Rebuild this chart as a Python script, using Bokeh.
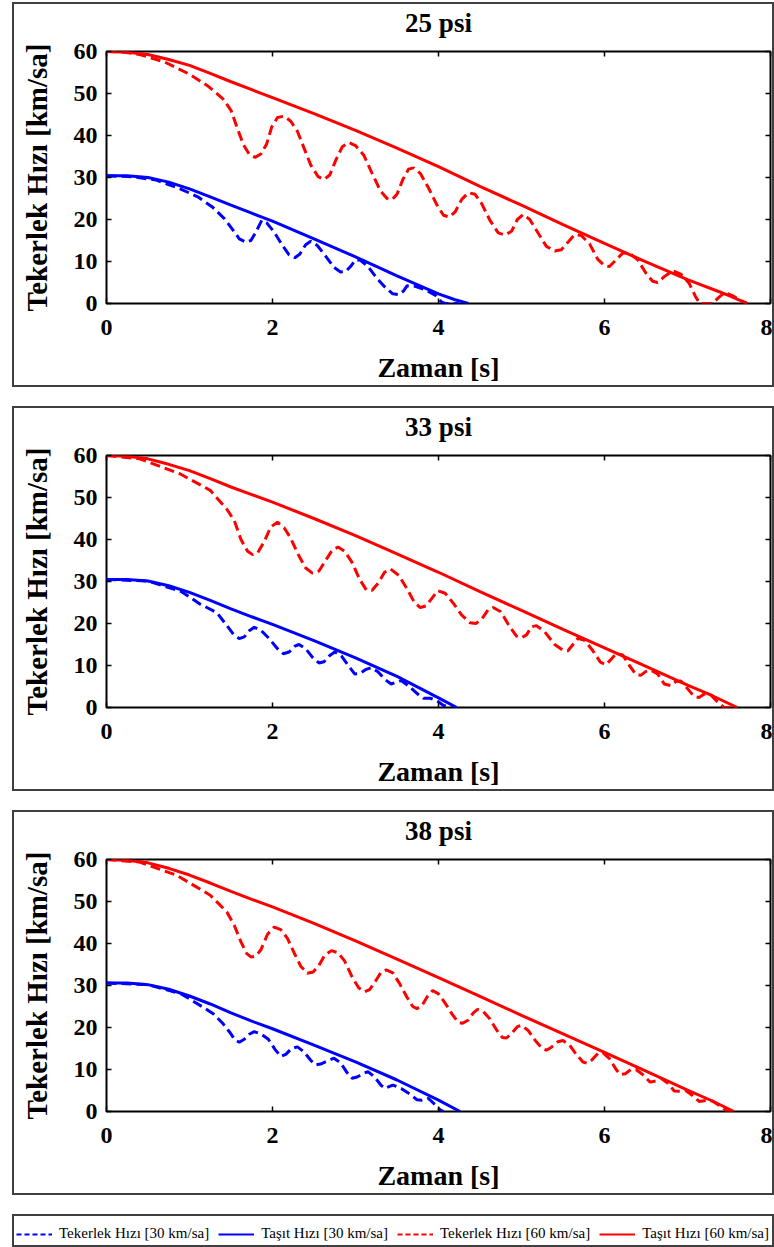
from bokeh.plotting import figure
from bokeh.models import Range1d, LinearAxis, FixedTicker, Legend, LegendItem
from bokeh.layouts import column
from bokeh.embed import file_html
from bokeh.resources import INLINE

# ---------------- data ----------------
panel_titles = ["25 psi", "33 psi", "38 psi"]
x_ticks = [0, 2, 4, 6, 8]
y_ticks = [0, 10, 20, 30, 40, 50, 60]
legend_labels = ["Tekerlek Hızı [30 km/sa]", "Taşıt Hızı [30 km/sa]",
                 "Tekerlek Hızı [60 km/sa]", "Taşıt Hızı [60 km/sa]"]

# 25 psi
t_tasit60_25 = [0, 0.25, 0.5, 0.75, 1.0, 1.25, 1.5, 1.75, 2.0, 2.5, 3.0, 3.5, 4.0, 4.5, 5.0, 5.5, 6.0, 6.5, 7.0, 7.5, 7.72]
v_tasit60_25 = [60, 59.8, 59.3, 58.1, 56.7, 54.8, 52.8, 50.9, 49.0, 45.2, 41.2, 37.0, 32.6, 27.9, 23.4, 18.8, 14.3, 9.9, 5.7, 1.9, 0]
t_teker60_25 = [0, 0.2, 0.4, 0.7, 1.0, 1.22, 1.4, 1.5, 1.58, 1.65, 1.72, 1.79, 1.86, 1.93, 1.99, 2.06, 2.14, 2.22, 2.3, 2.38, 2.46, 2.55, 2.62, 2.69, 2.76, 2.84, 2.92, 3.0, 3.1, 3.2, 3.3, 3.38, 3.44, 3.5, 3.57, 3.64, 3.7, 3.78, 3.88, 3.98, 4.06, 4.13, 4.2, 4.28, 4.36, 4.44, 4.52, 4.62, 4.72, 4.8, 4.88, 4.95, 5.02, 5.1, 5.2, 5.3, 5.4, 5.48, 5.56, 5.64, 5.72, 5.82, 5.92, 6.0, 6.06, 6.13, 6.22, 6.3, 6.4, 6.5, 6.58, 6.64, 6.72, 6.82, 6.92, 7.02, 7.1, 7.15, 7.3, 7.38, 7.45, 7.55, 7.65, 7.72]
v_teker60_25 = [60, 59.9, 59.3, 57.5, 54.6, 51.8, 48.8, 46.0, 41.5, 37.8, 35.5, 34.8, 35.6, 38.0, 42.0, 44.3, 44.6, 43.4, 41.0, 37.0, 33.0, 30.2, 29.5, 30.6, 34.0, 37.3, 38.3, 37.6, 35.3, 31.0, 26.8, 25.0, 24.7, 26.0, 29.5, 32.0, 32.3, 31.0, 27.5, 23.5, 21.0, 20.6, 21.8, 24.8, 26.4, 26.0, 23.8, 19.8, 16.8, 16.3, 17.2, 20.0, 21.2, 20.0, 16.8, 13.6, 12.5, 12.8, 14.6, 16.4, 16.2, 14.2, 10.5, 9.0, 8.8, 10.2, 12.0, 12.0, 10.4, 7.2, 5.3, 5.0, 6.4, 7.8, 7.0, 4.8, 1.5, 0, 0, 1.5, 2.6, 1.8, 0.6, 0]
t_tasit30_25 = [0, 0.25, 0.5, 0.75, 1.0, 1.25, 1.5, 1.75, 2.0, 2.5, 3.0, 3.5, 4.0, 4.2, 4.36]
v_tasit30_25 = [30.4, 30.4, 30.0, 28.9, 27.3, 25.4, 23.4, 21.5, 19.6, 15.4, 11.1, 6.6, 2.3, 0.9, 0]
t_teker30_25 = [0, 0.3, 0.6, 0.9, 1.1, 1.28, 1.42, 1.52, 1.6, 1.68, 1.74, 1.8, 1.87, 1.93, 2.02, 2.12, 2.2, 2.27, 2.33, 2.4, 2.46, 2.54, 2.64, 2.74, 2.82, 2.88, 2.94, 3.0, 3.06, 3.15, 3.25, 3.35, 3.45, 3.52, 3.58, 3.62, 3.72, 3.85, 3.96, 4.04, 4.08, 4.24]
v_teker30_25 = [30.4, 30.2, 29.4, 27.2, 25.4, 22.9, 20.2, 17.6, 15.4, 14.6, 15.0, 17.0, 19.8, 19.2, 17.0, 13.8, 11.6, 10.9, 11.8, 14.0, 14.8, 13.8, 11.3, 8.6, 7.5, 7.6, 8.8, 10.4, 10.3, 8.8, 6.2, 4.0, 2.3, 2.1, 3.0, 4.2, 4.1, 3.2, 2.0, 0.3, 0, 0]

# 33 psi
t_tasit60_33 = [0, 0.25, 0.5, 0.75, 1.0, 1.25, 1.5, 1.75, 2.0, 2.5, 3.0, 3.5, 4.0, 4.5, 5.0, 5.5, 6.0, 6.5, 7.0, 7.3, 7.6]
v_tasit60_33 = [60, 59.8, 59.2, 57.9, 56.4, 54.5, 52.5, 50.7, 48.9, 45.0, 40.9, 36.6, 32.2, 27.6, 23.1, 18.6, 14.2, 9.8, 5.3, 2.8, 0]
t_teker60_33 = [0, 0.4, 0.89, 1.25, 1.45, 1.54, 1.62, 1.7, 1.76, 1.82, 1.9, 1.98, 2.06, 2.14, 2.22, 2.3, 2.4, 2.48, 2.56, 2.64, 2.72, 2.79, 2.87, 2.96, 3.05, 3.13, 3.2, 3.27, 3.35, 3.42, 3.52, 3.62, 3.71, 3.78, 3.85, 3.92, 3.99, 4.08, 4.18, 4.28, 4.38, 4.45, 4.52, 4.6, 4.66, 4.75, 4.85, 4.94, 5.0, 5.06, 5.12, 5.18, 5.28, 5.4, 5.5, 5.56, 5.62, 5.68, 5.76, 5.86, 5.95, 6.02, 6.08, 6.14, 6.22, 6.3, 6.38, 6.44, 6.5, 6.56, 6.64, 6.72, 6.8, 6.86, 6.92, 7.0, 7.08, 7.14, 7.2, 7.28, 7.38, 7.44, 7.6]
v_teker60_33 = [60, 59.2, 55.6, 51.7, 47.2, 44.5, 40.0, 37.2, 36.4, 36.8, 39.5, 43.0, 44.1, 42.8, 40.3, 36.8, 33.2, 32.0, 32.5, 35.0, 37.5, 38.2, 37.2, 34.5, 30.5, 28.0, 27.9, 29.5, 32.2, 33.0, 31.5, 28.3, 25.0, 23.8, 24.2, 26.0, 27.8, 27.2, 24.8, 22.0, 20.2, 20.0, 21.0, 23.3, 23.8, 22.8, 19.5, 17.0, 16.6, 17.3, 19.2, 19.5, 18.0, 15.0, 13.6, 13.5, 15.0, 16.5, 16.0, 13.5, 10.8, 10.2, 11.5, 12.8, 12.5, 10.0, 7.8, 7.7, 8.6, 8.9, 8.0, 5.6, 5.2, 6.2, 6.3, 4.5, 2.6, 2.4, 3.2, 3.0, 1.0, 0, 0]
t_tasit30_33 = [0, 0.25, 0.5, 0.75, 1.0, 1.25, 1.5, 1.75, 2.0, 2.5, 3.0, 3.5, 4.0, 4.22]
v_tasit30_33 = [30.5, 30.5, 30.1, 29.0, 27.4, 25.5, 23.5, 21.6, 19.8, 15.9, 11.8, 7.4, 2.3, 0]
t_teker30_33 = [0, 0.5, 0.9, 1.13, 1.33, 1.45, 1.53, 1.6, 1.66, 1.72, 1.78, 1.86, 1.96, 2.06, 2.13, 2.2, 2.27, 2.32, 2.4, 2.48, 2.56, 2.62, 2.69, 2.75, 2.83, 2.92, 2.99, 3.05, 3.12, 3.19, 3.27, 3.36, 3.43, 3.49, 3.55, 3.65, 3.75, 3.82, 3.9, 3.98, 4.06, 4.16]
v_teker30_33 = [30.5, 30.1, 27.6, 24.6, 22.6, 19.5, 17.4, 16.4, 16.8, 18.3, 19.1, 18.4, 16.4, 14.0, 12.8, 13.2, 14.6, 15.0, 14.0, 12.0, 10.6, 10.9, 12.4, 13.2, 12.3, 9.8, 8.0, 8.1, 9.0, 9.5, 8.5, 6.6, 5.6, 6.0, 6.4, 5.0, 3.2, 2.2, 2.2, 1.6, 0.5, 0]

# 38 psi
t_tasit60_38 = [0, 0.25, 0.5, 0.75, 1.0, 1.25, 1.5, 1.75, 2.0, 2.5, 3.0, 3.5, 4.0, 4.5, 5.0, 5.5, 6.0, 6.5, 7.0, 7.3, 7.56]
v_tasit60_38 = [60, 59.8, 59.2, 57.9, 56.3, 54.4, 52.4, 50.5, 48.7, 44.8, 40.6, 36.3, 31.9, 27.4, 22.9, 18.5, 14.1, 9.6, 5.1, 2.5, 0]
t_teker60_38 = [0, 0.4, 0.85, 1.25, 1.45, 1.54, 1.62, 1.69, 1.74, 1.8, 1.86, 1.94, 2.02, 2.1, 2.18, 2.26, 2.34, 2.42, 2.49, 2.56, 2.63, 2.71, 2.79, 2.87, 2.96, 3.04, 3.11, 3.17, 3.24, 3.31, 3.37, 3.45, 3.53, 3.62, 3.69, 3.74, 3.8, 3.87, 3.93, 4.0, 4.08, 4.17, 4.24, 4.29, 4.36, 4.42, 4.47, 4.54, 4.62, 4.7, 4.77, 4.82, 4.88, 4.95, 5.0, 5.08, 5.17, 5.25, 5.3, 5.36, 5.44, 5.5, 5.58, 5.66, 5.74, 5.79, 5.85, 5.92, 5.98, 6.06, 6.14, 6.19, 6.25, 6.32, 6.38, 6.46, 6.55, 6.62, 6.68, 6.76, 6.84, 6.92, 6.98, 7.06, 7.14, 7.22, 7.3, 7.4, 7.48, 7.56]
v_teker60_38 = [60, 59.4, 56.2, 51.5, 47.5, 44.3, 40.4, 37.6, 36.8, 37.0, 38.5, 42.2, 43.9, 43.3, 41.2, 37.8, 34.6, 32.9, 33.2, 34.8, 37.2, 38.3, 37.8, 35.8, 32.0, 29.4, 28.5, 29.0, 31.0, 33.2, 33.7, 33.0, 30.5, 27.2, 25.0, 24.5, 25.2, 27.5, 28.8, 28.0, 25.8, 23.0, 21.2, 21.0, 21.8, 23.5, 24.3, 23.8, 22.0, 19.4, 17.6, 17.5, 18.6, 20.2, 20.5, 19.3, 16.8, 15.0, 14.6, 15.3, 16.6, 16.9, 15.8, 13.6, 11.8, 11.5, 12.3, 13.8, 14.0, 12.6, 10.0, 8.8, 9.0, 10.0, 10.0, 8.8, 7.0, 7.3, 7.9, 6.8, 4.9, 4.8, 5.0, 3.8, 2.4, 2.6, 2.5, 1.2, 0, 0]
t_tasit30_38 = [0, 0.25, 0.5, 0.75, 1.0, 1.25, 1.5, 1.75, 2.0, 2.5, 3.0, 3.5, 4.0, 4.26]
v_tasit30_38 = [30.6, 30.6, 30.2, 29.1, 27.5, 25.6, 23.5, 21.5, 19.7, 15.8, 11.8, 7.5, 2.7, 0]
t_teker30_38 = [0, 0.5, 0.9, 1.15, 1.29, 1.4, 1.48, 1.55, 1.6, 1.66, 1.72, 1.78, 1.86, 1.95, 2.03, 2.1, 2.16, 2.23, 2.3, 2.38, 2.46, 2.52, 2.58, 2.66, 2.74, 2.82, 2.9, 2.96, 3.02, 3.09, 3.15, 3.23, 3.31, 3.36, 3.41, 3.45, 3.55, 3.65, 3.74, 3.8, 3.88, 3.96, 4.02, 4.06]
v_teker30_38 = [30.6, 30.2, 28.0, 25.0, 23.2, 21.0, 19.0, 17.0, 16.5, 17.2, 18.4, 19.0, 18.5, 17.2, 14.8, 13.1, 13.6, 15.0, 15.4, 14.2, 12.2, 11.1, 11.3, 12.0, 12.7, 11.6, 9.2, 7.9, 8.2, 9.0, 9.5, 8.2, 6.2, 5.5, 6.0, 6.3, 5.5, 4.2, 2.8, 2.7, 3.1, 1.6, 0.4, 0]

panels = [
    (panel_titles[0], (t_teker30_25, v_teker30_25), (t_tasit30_25, v_tasit30_25), (t_teker60_25, v_teker60_25), (t_tasit60_25, v_tasit60_25)),
    (panel_titles[1], (t_teker30_33, v_teker30_33), (t_tasit30_33, v_tasit30_33), (t_teker60_33, v_teker60_33), (t_tasit60_33, v_tasit60_33)),
    (panel_titles[2], (t_teker30_38, v_teker30_38), (t_tasit30_38, v_tasit30_38), (t_teker60_38, v_teker60_38), (t_tasit60_38, v_tasit60_38)),
]

# ---------------- style ----------------
FONT = "Liberation Serif"
BLUE = "#0000ff"
RED = "#ff0000"
LW = 3
DASH = "10 5"
BOX = {"border": "2px solid #404040"}
series_style = [(BLUE, DASH), (BLUE, "solid"), (RED, DASH), (RED, "solid")]


def style_axis(ax, labels=True):
    ax.axis_line_color = None
    ax.major_tick_in = 5
    ax.major_tick_out = 0
    ax.minor_tick_line_color = None
    ax.major_tick_line_color = "black"
    ax.major_tick_line_width = 1.5
    if labels:
        ax.major_label_text_font = FONT
        ax.major_label_text_font_style = "bold"
        ax.major_label_text_font_size = "24px"
        ax.major_label_text_color = "black"
    else:
        ax.major_label_text_font_size = "1px"
        ax.major_label_text_color = None
        ax.major_label_standoff = 0


def label_style(ax, size):
    ax.axis_label_text_font = FONT
    ax.axis_label_text_font_style = "bold"
    ax.axis_label_text_font_size = size
    ax.axis_label_text_color = "black"


def make_panel(title, series):
    p = figure(width=762, height=385, x_range=Range1d(0, 8), y_range=Range1d(0, 60),
               output_backend="svg", toolbar_location=None,
               min_border_left=92, min_border_right=6, min_border_top=47, min_border_bottom=86)
    p.styles = BOX
    p.grid.visible = False
    p.outline_line_color = "black"
    p.outline_line_width = 2
    p.background_fill_color = "white"
    p.border_fill_color = "white"

    for (t, v), (col, dash) in zip(series, series_style):
        p.line(t, v, line_color=col, line_width=LW, line_dash=dash)

    p.xaxis.ticker = FixedTicker(ticks=x_ticks)
    p.yaxis.ticker = FixedTicker(ticks=y_ticks)
    style_axis(p.xaxis[0])
    style_axis(p.yaxis[0])
    p.xaxis.major_label_standoff = 16
    p.yaxis.major_label_standoff = 9
    p.xaxis.axis_label = "Zaman [s]"
    p.yaxis.axis_label = "Tekerlek Hızı [km/sa]"
    label_style(p.xaxis[0], "28px")
    label_style(p.yaxis[0], "29px")
    p.xaxis.axis_label_standoff = 14
    p.yaxis.axis_label_standoff = 18

    # top axis carries the panel title; right axis only ticks
    top = LinearAxis(ticker=FixedTicker(ticks=x_ticks), axis_label=title)
    right = LinearAxis(ticker=FixedTicker(ticks=y_ticks))
    style_axis(top, labels=False)
    style_axis(right, labels=False)
    label_style(top, "27px")
    top.axis_label_standoff = 14
    p.add_layout(top, "above")
    p.add_layout(right, "right")
    return p


figs = [make_panel(title, series) for title, *series in panels]

# legend strip (its sample lines lie outside the strip's visible range)
pl = figure(width=762, height=33, output_backend="svg", toolbar_location=None,
            x_axis_type=None, y_axis_type=None, min_border=0,
            x_range=Range1d(100, 101), y_range=Range1d(100, 101))
if "frame_align" in pl.properties():
    pl.frame_align = False
pl.styles = BOX
pl.outline_line_color = None
pl.grid.visible = False
items = []
for label, (t, v), (col, dash) in zip(legend_labels, panels[0][1:], series_style):
    r = pl.line(t, v, line_color=col, line_width=2, line_dash="5 3" if dash != "solid" else "solid")
    items.append(LegendItem(label=label, renderers=[r]))
leg = Legend(items=items, orientation="horizontal", location=(2, 7),
             border_line_color=None, background_fill_alpha=0,
             label_text_font=FONT, label_text_font_size="15px", label_text_color="black",
             glyph_width=36, glyph_height=14, spacing=9, padding=0, margin=0,
             label_standoff=7)
pl.add_layout(leg, "center")

layout = column(*figs, pl, spacing=19, margin=(2, 0, 0, 12))

open("out.html", "w").write(file_html(layout, INLINE))
